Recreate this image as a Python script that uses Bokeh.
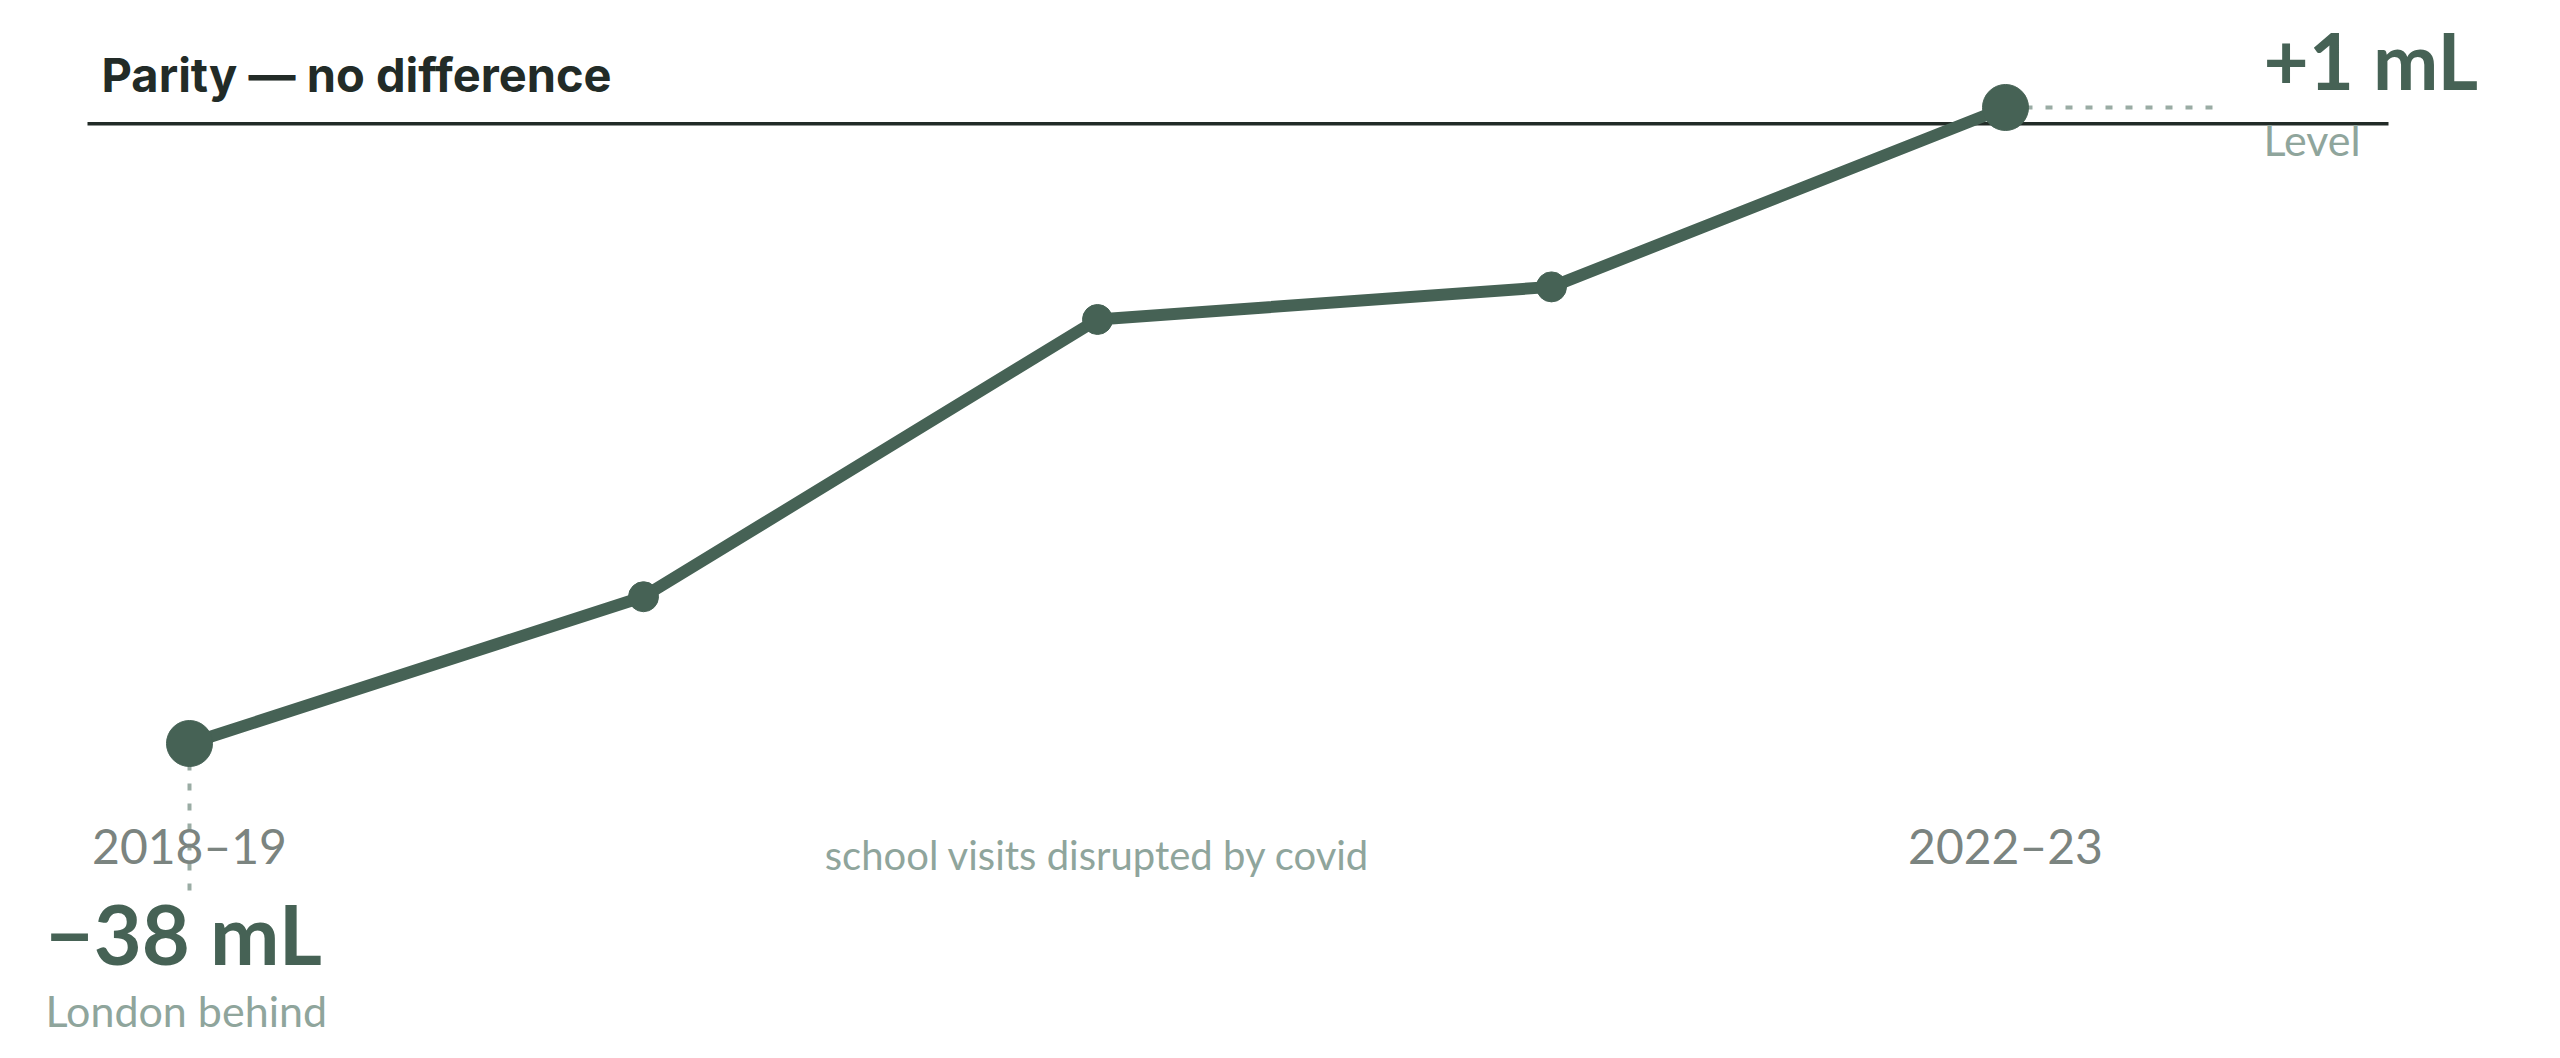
from bokeh.plotting import figure
from bokeh.models import Range1d, Label
from bokeh.embed import file_html
from bokeh.resources import INLINE

# data: London gap vs. rest of country, mL
years = ["2018–19", "2019–20", "2020–21", "2021–22", "2022–23"]
gap_ml = [-38, -29, -12, -10, 1]
covid_note = "school visits disrupted by covid"

GREEN = "#466255"
DARK = "#222b27"
MUTED = "#8fa59c"
GREY = "#7b8480"

W, H = 2544, 1042
X0_PX, X_STEP = 189, 454       # px of first year, px per year
Y0_PX, Y_UNIT = 123.3, 16.308  # px of zero line, px per mL
BASELINE_FIX = 0.42            # alphabetic baseline lands this many em low


def fx(px):
    return (px - X0_PX) / X_STEP


def fy(py):
    return (Y0_PX - py) / Y_UNIT


xs = list(range(len(years)))

p = figure(width=W, height=H, output_backend="svg", toolbar_location=None,
           x_range=Range1d(fx(0), fx(W)), y_range=Range1d(fy(H), fy(0)),
           min_border=0)
p.axis.visible = False
p.grid.visible = False
p.outline_line_color = None
p.background_fill_color = "white"

# parity line
p.segment(x0=[fx(87)], y0=[0], x1=[fx(2388)], y1=[0], line_color=DARK, line_width=3.5)

# dotted leaders to the end labels
p.segment(x0=[xs[0]], y0=[gap_ml[0]], x1=[xs[0]], y1=[fy(890)],
          line_color="#9aaca4", line_width=4, line_dash="7 13")
p.segment(x0=[xs[-1]], y0=[gap_ml[-1]], x1=[fx(2222)], y1=[gap_ml[-1]],
          line_color="#9aaca4", line_width=4, line_dash="7 13")

# main series
p.line(xs, gap_ml, line_color=GREEN, line_width=12)
p.scatter(xs[1:-1], gap_ml[1:-1], size=30, color=GREEN)
p.scatter([xs[0], xs[-1]], [gap_ml[0], gap_ml[-1]], size=46, color=GREEN)


def label(x, base_px, text, size, color, align="left", bold=False, font="Lato"):
    y = fy(base_px - BASELINE_FIX * size)
    p.add_layout(Label(x=x, y=y, text=text, text_font=font,
                       text_font_size=f"{size}px", text_color=color,
                       text_align=align, text_baseline="alphabetic",
                       text_font_style="bold" if bold else "normal"))


label(fx(101), 94, "Parity — no difference", 47, DARK, bold=True, font="Inter")

label(xs[0], 865, years[0], 48, GREY, align="center")
label(xs[-1], 865, years[-1], 48, GREY, align="center")
label(xs[2], 871, covid_note, 40, MUTED, align="center")

label(fx(2263), 92, f"+{gap_ml[-1]} mL", 78, GREEN, bold=True)
label(fx(2263), 157, "Level", 43, MUTED)
label(fx(45), 967, f"−{abs(gap_ml[0])} mL", 83, GREEN, bold=True)
label(fx(45), 1028, "London behind", 43, MUTED)

open("out.html", "w").write(file_html(p, INLINE))
